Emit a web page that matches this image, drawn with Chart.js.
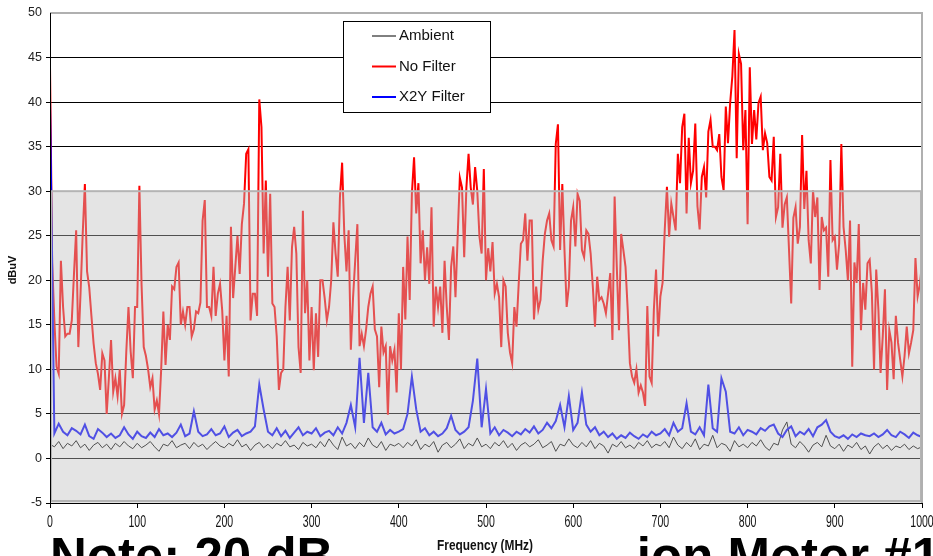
<!DOCTYPE html>
<html>
<head>
<meta charset="utf-8">
<script src="https://cdn.jsdelivr.net/npm/chart.js@4.4.1/dist/chart.umd.min.js"></script>
<style>
  html, body { margin: 0; padding: 0; background: #fff; }
  #wrap { width: 933px; height: 556px; }
</style>
</head>
<body>
<div id="wrap"><canvas id="noiseChart" width="933" height="556"></canvas></div>
<script>
// frequency axis (MHz) for the ambient / X2Y sweeps, one reading every 5 MHz
const freqs = [
  0, 5, 10, 15, 20, 25, 30, 35, 40, 45, 50, 55, 60, 65, 70, 75, 80, 85, 90, 95,
  100, 105, 110, 115, 120, 125, 130, 135, 140, 145, 150, 155, 160, 165, 170, 175, 180, 185, 190, 195,
  200, 205, 210, 215, 220, 225, 230, 235, 240, 245, 250, 255, 260, 265, 270, 275, 280, 285, 290, 295,
  300, 305, 310, 315, 320, 325, 330, 335, 340, 345, 350, 355, 360, 365, 370, 375, 380, 385, 390, 395,
  400, 405, 410, 415, 420, 425, 430, 435, 440, 445, 450, 455, 460, 465, 470, 475, 480, 485, 490, 495,
  500, 505, 510, 515, 520, 525, 530, 535, 540, 545, 550, 555, 560, 565, 570, 575, 580, 585, 590, 595,
  600, 605, 610, 615, 620, 625, 630, 635, 640, 645, 650, 655, 660, 665, 670, 675, 680, 685, 690, 695,
  700, 705, 710, 715, 720, 725, 730, 735, 740, 745, 750, 755, 760, 765, 770, 775, 780, 785, 790, 795,
  800, 805, 810, 815, 820, 825, 830, 835, 840, 845, 850, 855, 860, 865, 870, 875, 880, 885, 890, 895,
  900, 905, 910, 915, 920, 925, 930, 935, 940, 945, 950, 955, 960, 965, 970, 975, 980, 985, 990, 995,
  1000
];

// frequency axis for the unfiltered sweep, one reading every 2.5 MHz
const freqsFine = [
  0, 2.5, 5, 7.5, 10, 12.5, 15, 17.5, 20, 22.5, 25, 27.5, 30, 32.5, 35, 37.5, 40, 42.5, 45, 47.5,
  50, 52.5, 55, 57.5, 60, 62.5, 65, 67.5, 70, 72.5, 75, 77.5, 80, 82.5, 85, 87.5, 90, 92.5, 95, 97.5,
  100, 102.5, 105, 107.5, 110, 112.5, 115, 117.5, 120, 122.5, 125, 127.5, 130, 132.5, 135, 137.5, 140, 142.5, 145, 147.5,
  150, 152.5, 155, 157.5, 160, 162.5, 165, 167.5, 170, 172.5, 175, 177.5, 180, 182.5, 185, 187.5, 190, 192.5, 195, 197.5,
  200, 202.5, 205, 207.5, 210, 212.5, 215, 217.5, 220, 222.5, 225, 227.5, 230, 232.5, 235, 237.5, 240, 242.5, 245, 247.5,
  250, 252.5, 255, 257.5, 260, 262.5, 265, 267.5, 270, 272.5, 275, 277.5, 280, 282.5, 285, 287.5, 290, 292.5, 295, 297.5,
  300, 302.5, 305, 307.5, 310, 312.5, 315, 317.5, 320, 322.5, 325, 327.5, 330, 332.5, 335, 337.5, 340, 342.5, 345, 347.5,
  350, 352.5, 355, 357.5, 360, 362.5, 365, 367.5, 370, 372.5, 375, 377.5, 380, 382.5, 385, 387.5, 390, 392.5, 395, 397.5,
  400, 402.5, 405, 407.5, 410, 412.5, 415, 417.5, 420, 422.5, 425, 427.5, 430, 432.5, 435, 437.5, 440, 442.5, 445, 447.5,
  450, 452.5, 455, 457.5, 460, 462.5, 465, 467.5, 470, 472.5, 475, 477.5, 480, 482.5, 485, 487.5, 490, 492.5, 495, 497.5,
  500, 502.5, 505, 507.5, 510, 512.5, 515, 517.5, 520, 522.5, 525, 527.5, 530, 532.5, 535, 537.5, 540, 542.5, 545, 547.5,
  550, 552.5, 555, 557.5, 560, 562.5, 565, 567.5, 570, 572.5, 575, 577.5, 580, 582.5, 585, 587.5, 590, 592.5, 595, 597.5,
  600, 602.5, 605, 607.5, 610, 612.5, 615, 617.5, 620, 622.5, 625, 627.5, 630, 632.5, 635, 637.5, 640, 642.5, 645, 647.5,
  650, 652.5, 655, 657.5, 660, 662.5, 665, 667.5, 670, 672.5, 675, 677.5, 680, 682.5, 685, 687.5, 690, 692.5, 695, 697.5,
  700, 702.5, 705, 707.5, 710, 712.5, 715, 717.5, 720, 722.5, 725, 727.5, 730, 732.5, 735, 737.5, 740, 742.5, 745, 747.5,
  750, 752.5, 755, 757.5, 760, 762.5, 765, 767.5, 770, 772.5, 775, 777.5, 780, 782.5, 785, 787.5, 790, 792.5, 795, 797.5,
  800, 802.5, 805, 807.5, 810, 812.5, 815, 817.5, 820, 822.5, 825, 827.5, 830, 832.5, 835, 837.5, 840, 842.5, 845, 847.5,
  850, 852.5, 855, 857.5, 860, 862.5, 865, 867.5, 870, 872.5, 875, 877.5, 880, 882.5, 885, 887.5, 890, 892.5, 895, 897.5,
  900, 902.5, 905, 907.5, 910, 912.5, 915, 917.5, 920, 922.5, 925, 927.5, 930, 932.5, 935, 937.5, 940, 942.5, 945, 947.5,
  950, 952.5, 955, 957.5, 960, 962.5, 965, 967.5, 970, 972.5, 975, 977.5, 980, 982.5, 985, 987.5, 990, 992.5, 995, 997.5,
  1000
];

// dBuV readings
const ambient = [
  1.6, 1.3, 1.9, 1.1, 1.7, 1.4, 2.0, 1.2, 1.6, 0.9, 1.5, 1.8, 1.2, 1.6, 1.0, 1.7, 1.3, 1.9, 1.4, 1.1,
  1.7, 1.2, 1.5, 1.9, 1.3, 0.8, 1.6, 1.4, 2.0, 1.2, 1.5, 1.7, 1.1, 1.8, 1.3, 1.6, 1.0, 1.5, 1.9, 1.4,
  1.2, 1.7, 1.4, 2.1, 1.3, 1.6, 0.9, 1.5, 1.8, 1.2, 1.6, 1.1, 1.7, 1.4, 2.0, 1.3, 1.5, 1.0, 1.8, 1.4,
  1.6, 1.2, 1.9, 1.3, 2.2, 1.5, 1.0, 2.4, 1.4, 1.7, 1.1, 1.8, 1.3, 2.3, 1.5, 1.2, 1.9, 0.9, 1.6, 1.4,
  1.7, 1.2, 1.8, 1.4, 2.1, 1.0, 1.6, 1.3, 1.9, 0.7, 1.5, 1.8, 1.2, 1.6, 2.2, 1.1, 1.7, 1.4, 2.3, 1.3,
  1.6, 1.1, 1.8, 1.4, 2.0, 1.2, 1.7, 0.9, 1.5, 1.8, 1.3, 1.6, 2.1, 1.2, 1.5, 1.9, 0.8, 1.6, 1.4, 2.2,
  1.5, 1.2, 1.8, 1.3, 2.0, 1.1, 1.7, 1.4, 0.6, 1.6, 1.3, 1.9, 1.2, 1.5, 1.1, 1.8, 1.4, 2.0, 1.2, 1.6,
  1.4, 1.9, 1.2, 2.4, 1.5, 1.1, 1.8, 1.3, 2.2, 1.0, 1.6, 1.4, 2.6, 1.2, 1.7, 1.5, 0.8, 2.0, 1.3, 1.6,
  1.2, 1.8, 1.4, 2.1, 1.3, 0.9, 1.7, 1.5, 3.2, 4.1, 1.6, 1.2, 1.9, 1.4, 0.7, 1.5, 1.8, 1.3, 2.6, 1.4,
  1.1, 1.6, 0.8, 1.5, 1.2, 1.8, 1.0, 1.4, 0.5, 1.3, 1.7, 1.1, 1.5, 0.9, 1.4, 1.2, 1.6, 1.0, 1.4, 1.1,
  1.3
];

const noFilter = [
  44, 22, 15.5, 10.3, 9.5, 22.2, 17, 13.7, 14, 14, 15.5, 20.7, 25.6, 12.5, 18.5, 25.2, 30.8, 21, 19.2, 16,
  12.9, 10.7, 9.5, 7.7, 11.8, 11, 5, 9, 13.3, 7.5, 9, 7, 10, 5, 6, 12, 17, 12, 9, 17,
  17, 30.6, 19.5, 12.5, 11.5, 10, 8, 9, 5.5, 6.5, 5, 10, 16.5, 10.5, 15, 13.3, 19.3, 19, 21.5, 22,
  15, 16.5, 15, 17, 17, 13.7, 14.5, 16.5, 16.3, 17.5, 26.7, 29, 17, 17, 16, 21.5, 16, 18.5, 19.6, 16.6,
  11, 16, 9.2, 26, 18, 21.5, 25, 20.7, 26.3, 28.6, 34.2, 34.7, 15.5, 18.5, 18.5, 16, 40.3, 37.2, 23, 31.2,
  20.4, 29.7, 17.4, 17, 13.7, 7.7, 9.6, 10, 17, 21.5, 15.5, 23.7, 26, 23, 12.5, 9.6, 27.8, 16.3, 20, 11,
  17, 9.9, 16.3, 11.4, 20, 20, 18, 15.5, 17, 20, 26.5, 23, 20.4, 29.3, 33.2, 25.2, 21, 25.6, 12.2, 18,
  22.2, 26.3, 12.6, 14, 12.6, 14.5, 17, 18.5, 19.3, 14.5, 13.7, 8, 14.8, 11.9, 12.6, 4.9, 12.6, 11, 12.2, 7.4,
  16.3, 10, 21.5, 15.6, 24.9, 17.8, 29.7, 33.8, 27.5, 30.9, 21.9, 25.6, 20, 23.7, 19.6, 28.2, 14.8, 19.3, 17, 19.3,
  14.1, 22.2, 17, 13.3, 21.5, 23.8, 18.1, 24.9, 31.5, 30.4, 22.6, 30.4, 34.2, 30.4, 28.5, 32.7, 30, 24.9, 23, 32.5,
  20, 23.6, 21, 24.3, 18.5, 19.6, 18.1, 12.5, 20, 19.3, 14.1, 11.9, 10.7, 17, 14.8, 19.6, 24.1, 24.5, 27.5, 22.2,
  26.7, 26.7, 15.6, 19.3, 16.7, 17.8, 22.2, 25.2, 26.7, 27.5, 24.5, 23.8, 35.3, 37.5, 23.4, 30.8, 23.4, 17, 19.3, 26.7,
  28.2, 23.8, 29.7, 28.9, 23.4, 22.6, 25.6, 25.2, 23, 19.3, 14.8, 20.4, 17.8, 18.1, 17.4, 16.3, 18.5, 20.8, 13.3, 29.4,
  21.5, 14.4, 25.2, 23.4, 21.5, 16.7, 10.7, 9.2, 8.5, 10, 7.4, 8.2, 7.4, 5.9, 17.1, 9.2, 8.5, 16.7, 21.2, 13.7,
  18.2, 19.7, 25.7, 30.5, 24.9, 28.6, 27.1, 25.6, 34.2, 30.9, 37.2, 38.7, 27.5, 36, 30.9, 32.3, 37.6, 28.3, 25.7, 31.6,
  32.7, 29.3, 36.7, 38, 35, 35, 34.6, 36.4, 31.6, 30.1, 39.5, 35.4, 39.9, 42.9, 48.1, 33.7, 45.4, 44.3, 34.6, 39.1,
  26.3, 43.9, 35.3, 39.1, 35.8, 39.9, 40.6, 34.6, 36.5, 35.4, 31.6, 31.2, 36.1, 27.1, 28.2, 34.2, 25.9, 28.5, 29.3, 23.4,
  17.4, 27, 28.2, 24.1, 26, 36.3, 28, 32.3, 24.5, 21.9, 30.1, 27.1, 29.3, 18.9, 27.1, 25.6, 25.9, 20.4, 33.5, 24.5,
  24.9, 21.2, 24.1, 35.3, 26, 23.4, 20, 26.7, 10.3, 22, 19.7, 26.3, 14.4, 19.7, 16.7, 21.9, 22.3, 18.6, 10, 21.2,
  16.7, 9.6, 13.7, 19, 7.7, 14.4, 13, 8.9, 16, 13, 11.1, 9.2, 11.5, 14.8, 11.8, 13, 14.4, 22.5, 18.2, 19.5,
  21.9
];

const x2yFilter = [
  40, 2.8, 3.9, 3.0, 2.6, 3.4, 3.1, 2.7, 3.8, 2.5, 2.2, 3.3, 2.9, 2.4, 2.8, 2.3, 2.6, 3.5, 2.7, 2.2,
  3.0, 2.5, 2.3, 2.9, 2.4, 3.3, 2.6, 2.8, 2.4, 2.9, 3.8, 2.5, 2.8, 5.3, 3.0, 2.5, 2.7, 3.3, 2.6, 2.8,
  3.6, 2.4, 2.9, 3.2, 2.5, 2.8, 3.0, 3.6, 8.3, 5.5, 3.0, 2.6, 3.4, 2.5, 3.1, 2.3, 2.9, 3.5, 2.6, 3.0,
  2.8, 3.4, 2.5, 2.9, 3.1, 2.6, 3.5, 2.8, 4.0, 6.0, 3.5, 11.3, 4.0, 9.6, 3.5, 3.0, 4.0, 2.7, 3.2, 2.8,
  3.0, 3.3, 5.0, 9.2, 5.5, 3.0, 3.4, 2.6, 3.0, 2.5, 2.8, 3.4, 4.8, 3.2, 2.7, 3.0, 3.5, 6.5, 11.2, 3.5,
  7.8, 2.8, 3.5, 2.6, 3.2, 2.9, 2.5, 3.0, 2.7, 3.3, 2.9, 3.6, 2.8, 3.2, 4.0, 3.4, 4.2, 6.0, 3.5, 7.0,
  3.2, 4.0, 7.4, 3.8, 3.0, 3.5, 2.6, 3.0, 2.4, 2.8, 2.2, 2.6, 2.3, 2.9, 2.5, 2.2, 2.7, 2.4, 3.0, 2.6,
  2.8, 3.3, 2.6, 4.0, 3.0, 3.4, 6.2, 3.0, 2.7, 3.5, 2.6, 8.3, 3.4, 3.0, 9.0, 7.5, 3.0, 2.8, 3.5, 2.6,
  3.2, 3.0, 2.7, 3.4, 3.1, 3.6, 3.8, 2.8, 2.4, 3.2, 3.6, 2.5, 3.0, 2.7, 3.3, 2.5, 3.5, 3.8, 4.3, 3.0,
  2.5, 2.3, 2.6, 2.2, 2.7, 2.4, 2.8, 2.6, 2.5, 2.8, 2.4, 2.7, 3.2, 2.6, 2.4, 3.0, 2.7, 2.3, 2.9, 2.6,
  2.4
];

const xTicks = [0, 100, 200, 300, 400, 500, 600, 700, 800, 900, 1000];
const yTicks = [-5, 0, 5, 10, 15, 20, 25, 30, 35, 40, 45, 50];
const shadeTop = 30;

function points(xs, values) {
  return xs.map((f, i) => ({ x: f, y: values[i] }));
}

const decor = {
  id: "decor",
  beforeDraw(chart) {
    const ctx = chart.ctx;
    ctx.save();
    ctx.fillStyle = "#fff";
    ctx.fillRect(0, 0, chart.width, chart.height);
    ctx.restore();
  },
  afterDatasetsDraw(chart) {
    const { ctx, chartArea: a, scales: { y } } = chart;
    const top = y.getPixelForValue(shadeTop);
    const bot = y.getPixelForValue(-5);
    ctx.save();
    // translucent grey band over the lower part of the plot
    ctx.fillStyle = "rgba(190,190,190,0.42)";
    ctx.fillRect(a.left, top, a.right - a.left, bot - top);
    ctx.strokeStyle = "#b4b4b4";
    ctx.lineWidth = 2;
    ctx.strokeRect(a.left + 1, top, a.right - a.left - 2, bot - top - 2);
    ctx.restore();
  },
  afterDraw(chart) {
    const { ctx, chartArea: a, scales: { x } } = chart;
    ctx.save();

    // right and top frame
    ctx.strokeStyle = "#b0b0b0";
    ctx.lineWidth = 2;
    ctx.beginPath();
    ctx.moveTo(a.left, a.top);
    ctx.lineTo(a.right, a.top);
    ctx.lineTo(a.right, a.bottom);
    ctx.stroke();

    // axes
    ctx.strokeStyle = "#000";
    ctx.lineWidth = 1;
    ctx.beginPath();
    ctx.moveTo(a.left - 4, a.bottom + 0.5);
    ctx.lineTo(a.right, a.bottom + 0.5);
    ctx.moveTo(a.left + 0.5, a.top);
    ctx.lineTo(a.left + 0.5, a.bottom + 5);
    ctx.stroke();

    // x tick labels, condensed
    ctx.fillStyle = "#111";
    ctx.textAlign = "center";
    ctx.textBaseline = "middle";
    xTicks.forEach(t => {
      const px = x.getPixelForValue(t);
      ctx.save();
      ctx.translate(px, 522);
      ctx.scale(0.62, 1);
      ctx.font = "17px 'Liberation Sans', Arial, sans-serif";
      ctx.fillText(String(t), 0, 0);
      ctx.restore();
    });

    // axis titles
    ctx.save();
    ctx.translate(485, 546);
    ctx.scale(0.85, 1);
    ctx.font = "bold 14px 'Liberation Sans', Arial, sans-serif";
    ctx.fillText("Frequency (MHz)", 0, 0);
    ctx.restore();

    ctx.save();
    ctx.translate(13, 270);
    ctx.rotate(-Math.PI / 2);
    ctx.font = "bold 11px 'Liberation Sans', Arial, sans-serif";
    ctx.fillText("dBuV", 0, 0);
    ctx.restore();

    // legend box
    const lx = 343, ly = 21, lw = 147, lh = 91;
    ctx.fillStyle = "#fff";
    ctx.fillRect(lx, ly, lw, lh);
    ctx.strokeStyle = "#000";
    ctx.lineWidth = 1;
    ctx.strokeRect(lx + 0.5, ly + 0.5, lw, lh);
    ctx.textAlign = "left";
    ctx.font = "15px 'Liberation Sans', Arial, sans-serif";
    const rows = [36, 66.5, 97];
    chart.data.datasets.forEach((ds, i) => {
      ctx.strokeStyle = ds.borderColor;
      ctx.lineWidth = ds.borderWidth;
      ctx.beginPath();
      ctx.moveTo(372, rows[i]);
      ctx.lineTo(396, rows[i]);
      ctx.stroke();
      ctx.fillStyle = "#111";
      ctx.fillText(ds.label, 399, rows[i]);
    });

    // slide note running off the bottom edge
    ctx.fillStyle = "#000";
    ctx.textBaseline = "alphabetic";
    ctx.font = "bold 51px 'Liberation Sans', Arial, sans-serif";
    ctx.textAlign = "left";
    ctx.fillText("Note: 20 dB", 50, 574);
    ctx.textAlign = "right";
    ctx.fillText("ion Motor #1", 940, 574);

    ctx.restore();
  }
};

new Chart(document.getElementById("noiseChart").getContext("2d"), {
  type: "line",
  data: {
    datasets: [
      { label: "Ambient", data: points(freqs, ambient), borderColor: "#000000", borderWidth: 1, order: 2 },
      { label: "No Filter", data: points(freqsFine, noFilter), borderColor: "#ff0000", borderWidth: 2, order: 3 },
      { label: "X2Y Filter", data: points(freqs, x2yFilter), borderColor: "#0000ff", borderWidth: 2, order: 1 }
    ]
  },
  options: {
    responsive: false,
    animation: false,
    events: [],
    elements: {
      point: { radius: 0 },
      line: { tension: 0, borderJoinStyle: "miter" }
    },
    layout: { padding: { top: 13, right: 11, left: 0, bottom: 0 } },
    plugins: {
      legend: { display: false },
      tooltip: { enabled: false }
    },
    scales: {
      x: {
        type: "linear",
        min: 0,
        max: 1000,
        afterBuildTicks: s => { s.ticks = xTicks.map(v => ({ value: v })); },
        afterFit: s => { s.height = 53; },
        grid: { drawOnChartArea: false, drawTicks: true, tickLength: 5, color: "#000" },
        border: { display: false },
        // labels are drawn by the decor plugin; keep these tiny so they don't eat margin
        ticks: { color: "rgba(0,0,0,0)", padding: 0, font: { size: 1 } }
      },
      y: {
        min: -5,
        max: 50,
        afterBuildTicks: s => { s.ticks = yTicks.map(v => ({ value: v })); },
        afterFit: s => { s.width = 50; },
        grid: {
          color: c => (c.tick && c.tick.value === 50 ? "rgba(0,0,0,0)" : "#000"),
          tickLength: 4,
          drawTicks: true
        },
        border: { display: false },
        ticks: {
          color: "#222",
          padding: 4,
          font: { family: "'Liberation Sans', Arial, sans-serif", size: 12.5 }
        }
      }
    }
  },
  plugins: [decor]
});
</script>
</body>
</html>
